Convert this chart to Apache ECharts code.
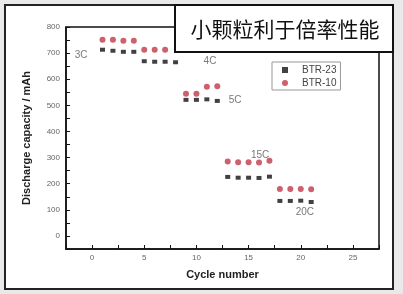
<!DOCTYPE html>
<html>
<head>
<meta charset="utf-8">
<script src="https://cdn.jsdelivr.net/npm/echarts@6/dist/echarts.min.js"></script>
<style>html,body{margin:0;padding:0;background:#e9e9e9;}#c{width:403px;height:294px;}</style>
</head>
<body>
<div id="c"></div>
<script>
const cycles = [1,2,3,4,5,6,7,8,9,10,11,12,13,14,15,16,17,18,19,20,21];
const btr23 = [713,709,705,705, 669,667,667,665, 521,521,523,517, 226,223,223,222,227, 134,134,135,130];
const btr10 = [751,751,747,747, 713,713,713,null, 544,544,571,573, 285,282,282,281,288, 180,180,180,179];
const seriesNames = ['BTR-23','BTR-10'];
const rateLabels = ['3C','4C','5C','15C','20C'];
const rateLabelX = [-1.05, 11.3, 13.7, 16.1, 20.4];
const rateLabelY = [693, 667, 521, 310, 92];
const titleText = '小颗粒利于倍率性能';
const xName = 'Cycle number';
const yName = 'Discharge capacity / mAh';

const chart = echarts.init(document.getElementById('c'), null, {renderer:'canvas'});
const pts = (ys) => cycles.map((c,i)=>[c, ys[i]]).filter(p => p[1] !== null);
chart.setOption({
  backgroundColor: '#e9e9e9',
  animation: false,
  graphic: [
    {type:'rect', z:-10, shape:{x:5,y:5,width:388,height:284}, style:{fill:'#fff', stroke:'#222', lineWidth:2}},
    {type:'rect', z:100, shape:{x:175,y:5,width:218,height:47}, style:{fill:'#fff', stroke:'#111', lineWidth:2}},
    {type:'text', z:101, x:285, y:29, style:{text:titleText, fill:'#111', font:'21px "Noto Sans CJK SC"', align:'center', verticalAlign:'middle'}}
  ],
  grid: {left:66, top:27, right:24, bottom:45, show:true, borderColor:'#111', borderWidth:1.5, backgroundColor:'transparent'},
  legend: {
    data: seriesNames, orient:'vertical', left:272, top:62,
    borderColor:'#999', borderWidth:1, padding:[3,4,2,10], itemGap:3,
    itemWidth:6, itemHeight:6,
    textStyle:{fontSize:10, color:'#444', fontFamily:'Liberation Sans', padding:[0,0,0,9]}
  },
  xAxis: {
    type:'value', min:-2.5, max:27.5, interval:2.5,
    name:xName, nameLocation:'middle', nameGap:20,
    nameTextStyle:{fontSize:11, fontWeight:'bold', color:'#222', fontFamily:'Liberation Sans'},
    axisLine:{show:true, onZero:false, lineStyle:{color:'#111', width:1.5}},
    axisTick:{inside:true, length:4, lineStyle:{color:'#111'}},
    splitLine:{show:false},
    axisLabel:{fontSize:8, color:'#666', margin:5, fontFamily:'Liberation Sans',
      formatter:(v)=> (Math.abs(v % 5) < 1e-6 ? String(v) : '')}
  },
  yAxis: {
    type:'value', min:-50, max:800, interval:50,
    name:yName, nameLocation:'middle', nameGap:34,
    nameTextStyle:{fontSize:11, fontWeight:'bold', color:'#222', fontFamily:'Liberation Sans'},
    axisLine:{show:true, onZero:false, lineStyle:{color:'#111', width:1.5}},
    axisTick:{inside:true, length:4, lineStyle:{color:'#111'}},
    splitLine:{show:false},
    axisLabel:{fontSize:8, color:'#666', margin:6, fontFamily:'Liberation Sans',
      formatter:(v)=> (v >= 0 && v % 100 === 0 ? String(v) : '')}
  },
  series: [
    {name:seriesNames[0], type:'scatter', symbol:'rect', symbolSize:[5,4], itemStyle:{color:'#111'}, data:pts(btr23), z:3},
    {name:seriesNames[1], type:'scatter', symbol:'circle', symbolSize:6, itemStyle:{color:'#c13848'}, data:pts(btr10), z:3},
    {name:'labels', type:'scatter', symbolSize:0, silent:true, z:4,
      data: rateLabels.map((t,i)=>({value:[rateLabelX[i], rateLabelY[i]], label:{show:true, formatter:t, position:'inside', fontSize:10, color:'#555', fontFamily:'Liberation Sans'}}))}
  ]
});
</script>
</body>
</html>
